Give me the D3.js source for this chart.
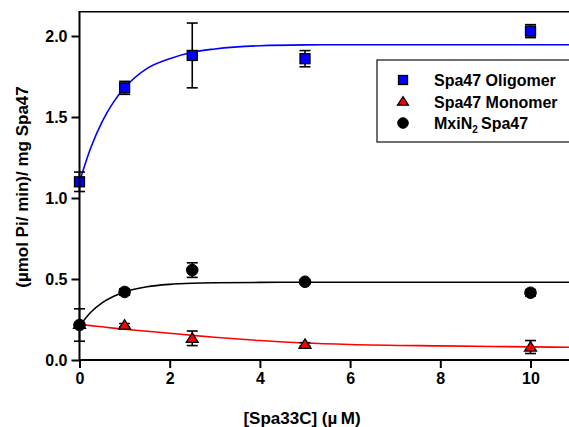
<!DOCTYPE html>
<html>
<head>
<meta charset="utf-8">
<script src="https://cdn.jsdelivr.net/npm/d3@7"></script>
<style>
  body { margin: 0; background: #fff; }
  svg { display: block; font-family: Arial, "Liberation Sans", sans-serif; font-weight: bold; }
</style>
</head>
<body>
<svg id="chart" width="569" height="427"></svg>
<script>
// measured points
const conc = [0, 1, 2.5, 5, 10];
const oligomer = [1.10, 1.68, 1.88, 1.86, 2.03];
const oligomerErr = [0.06, 0.04, 0.20, 0.05, 0.04];
const monomer = [0.22, 0.215, 0.134, 0.097, 0.08];
const monomerErr = [0.01, 0.01, 0.045, 0.01, 0.04];
const mxin = [0.216, 0.42, 0.555, 0.483, 0.415];
const mxinErr = [0.10, 0.02, 0.045, 0.01, 0.02];

// fitted curves
const fitX = [0, 0.25, 0.5, 0.75, 1, 1.5, 2, 2.5, 3, 4, 5, 6, 8, 10, 11];
const oligomerFit = [1.10, 1.31, 1.47, 1.59, 1.68, 1.80, 1.86, 1.90, 1.92, 1.94, 1.945, 1.946, 1.946, 1.946, 1.946];
const mxinFit = [0.21, 0.295, 0.353, 0.392, 0.42, 0.452, 0.467, 0.474, 0.477, 0.479, 0.48, 0.48, 0.48, 0.48, 0.48];
const monomerFit = [0.22, 0.212, 0.205, 0.197, 0.19, 0.177, 0.165, 0.152, 0.14, 0.12, 0.105, 0.096, 0.087, 0.081, 0.078];

const xTicks = [0, 2, 4, 6, 8, 10];
const yTicks = [0, 0.5, 1.0, 1.5, 2.0];

const svg = d3.select('#chart');

const x = d3.scaleLinear().domain([0, 10]).range([79.5, 530.5]);
const y = d3.scaleLinear().domain([0, 2]).range([360, 36]);
const xMax = 11, yMax = 2.15;

//series setup
const series = [
  {name: 'oligomer', vals: oligomer, err: oligomerErr, fit: oligomerFit, color: '#0000ff', shape: 'square'},
  {name: 'monomer', vals: monomer, err: monomerErr, fit: monomerFit, color: '#ff0000', shape: 'triangle'},
  {name: 'mxin', vals: mxin, err: mxinErr, fit: mxinFit, color: '#000000', shape: 'circle'}
];

const line = d3.line()
  .x(function(d){ return x(d[0]); })
  .y(function(d){ return y(d[1]); })
  .curve(d3.curveMonotoneX);

const plot = svg.append('g').classed('plot', true);

// fit lines
series.forEach(function(s){
  plot.append('path')
    .datum(fitX.map(function(v, i){ return [v, s.fit[i]]; }))
    .attr('fill', 'none')
    .attr('stroke', s.color)
    .attr('stroke-width', 1.6)
    .attr('d', line);
});

// error bars
series.forEach(function(s){
  const g = plot.append('g');
  conc.forEach(function(c, i){
    const cx = x(c), y1 = y(s.vals[i] + s.err[i]), y2 = y(s.vals[i] - s.err[i]);
    g.append('line').attr('x1', cx).attr('x2', cx).attr('y1', y1).attr('y2', y2);
    g.append('line').attr('x1', cx - 5.5).attr('x2', cx + 5.5).attr('y1', y1).attr('y2', y1);
    g.append('line').attr('x1', cx - 5.5).attr('x2', cx + 5.5).attr('y1', y2).attr('y2', y2);
  });
  g.selectAll('line').attr('stroke', '#000').attr('stroke-width', 1.6);
});

function drawSymbol(g, shape, color, cx, cy, size){
  if(shape === 'square'){
    g.append('rect').attr('x', cx - size/2).attr('y', cy - size/2)
      .attr('width', size).attr('height', size)
      .attr('fill', color).attr('stroke', '#000').attr('stroke-width', 1.3);
  } else if(shape === 'triangle'){
    const h = size * 0.9;
    g.append('path')
      .attr('d', 'M' + cx + ',' + (cy - h*0.6) + 'L' + (cx + size/2 + 1) + ',' + (cy + h*0.45) + 'L' + (cx - size/2 - 1) + ',' + (cy + h*0.45) + 'Z')
      .attr('fill', color).attr('stroke', '#000').attr('stroke-width', 1.3);
  } else {
    g.append('circle').attr('cx', cx).attr('cy', cy).attr('r', size/2 + 0.8)
      .attr('fill', color).attr('stroke', '#000').attr('stroke-width', 1);
  }
}

// markers (mxin last so it sits on top at x=0)
series.forEach(function(s){
  const g = plot.append('g');
  conc.forEach(function(c, i){
    drawSymbol(g, s.shape, s.color, x(c), y(s.vals[i]), 10);
  });
});

// axes
const xAxis = svg.append('g')
  .attr('transform', 'translate(0,' + y(0) + ')')
  .call(d3.axisBottom(x).tickValues(xTicks).tickFormat(d3.format('d')).tickSize(8).tickSizeOuter(0));
const yAxis = svg.append('g')
  .attr('transform', 'translate(' + x(0) + ',0)')
  .call(d3.axisLeft(y).tickValues(yTicks).tickFormat(d3.format('.1f')).tickSize(8).tickSizeOuter(0));

[xAxis, yAxis].forEach(function(a){
  a.select('.domain').remove();
  a.selectAll('line').attr('stroke', '#000').attr('stroke-width', 2);
  a.selectAll('text').attr('fill', '#000').style('font-size', '16px').style('font-weight', 'bold')
    .style('font-family', 'Arial, "Liberation Sans", sans-serif');
});
xAxis.selectAll('text').attr('y', 13);
yAxis.selectAll('text').attr('x', -12);

// frame: left, bottom, top
svg.append('line').attr('x1', x(0)).attr('x2', x(0)).attr('y1', y(yMax)).attr('y2', y(0) + 1)
  .attr('stroke', '#000').attr('stroke-width', 2);
svg.append('line').attr('x1', x(0)).attr('x2', x(xMax)).attr('y1', y(0)).attr('y2', y(0))
  .attr('stroke', '#000').attr('stroke-width', 2);
svg.append('line').attr('x1', x(0) - 1).attr('x2', x(xMax)).attr('y1', y(yMax)).attr('y2', y(yMax))
  .attr('stroke', '#000').attr('stroke-width', 1.6);

// axis titles
svg.append('text')
  .attr('x', 302).attr('y', 424)
  .attr('text-anchor', 'middle')
  .style('font-size', '17px')
  .text('[Spa33C] (\u00b5\u2009M)');

svg.append('text')
  .attr('transform', 'translate(28,187) rotate(-90)')
  .attr('text-anchor', 'middle')
  .style('font-size', '17px')
  .text('(\u00b5mol Pi/ min)/ mg Spa47');

//legend
const legend = svg.append('g').classed('legend', true);
legend.append('rect')
  .attr('x', 377).attr('y', 60).attr('width', 220).attr('height', 82)
  .attr('fill', '#fff').attr('stroke', '#222').attr('stroke-width', 1.3);

const legendItems = [
  {s: series[0], label: 'Spa47 Oligomer'},
  {s: series[1], label: 'Spa47 Monomer'},
  {s: series[2], label: 'MxiN'}
];
legendItems.forEach(function(item, i){
  const cy = 80 + i * 21.5;
  drawSymbol(legend, item.s.shape, item.s.color, 403, cy, 9);
  const t = legend.append('text')
    .attr('x', 434).attr('y', cy + 6)
    .style('font-size', '16px')
    .text(item.label);
  if(i === 2){
    t.append('tspan').attr('dy', 4).style('font-size', '10px').text('2');
    t.append('tspan').attr('dy', -4).text('\u2009Spa47');
  }
});
</script>
</body>
</html>
